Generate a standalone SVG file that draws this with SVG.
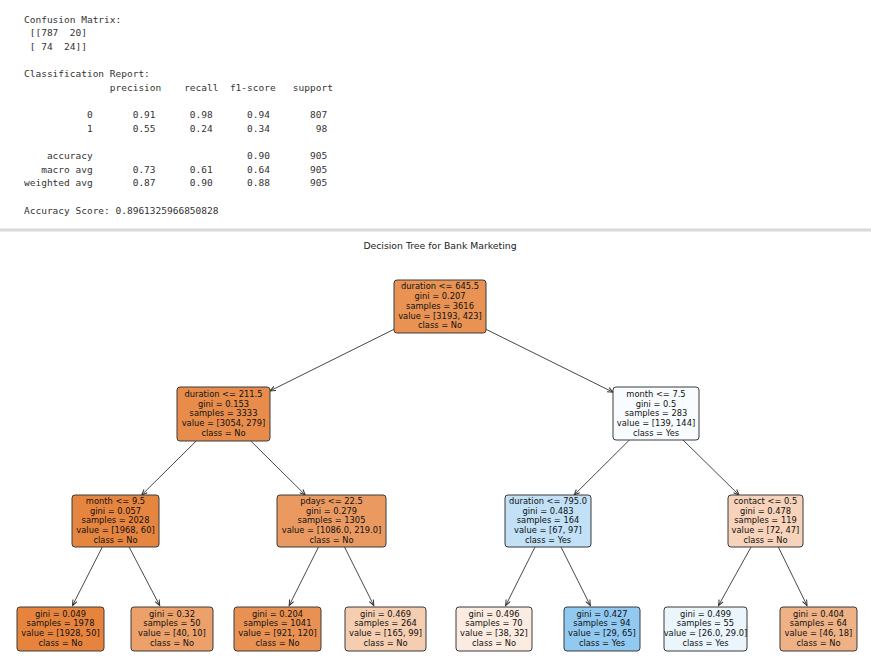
<svg xmlns="http://www.w3.org/2000/svg" width="871" height="665" viewBox="0 0 871 665">
<style>
.mono{font-family:"DejaVu Sans Mono","Liberation Mono",monospace;font-size:9.5px;fill:#333;white-space:pre}
.title{font-family:"DejaVu Sans","Liberation Sans",sans-serif;font-size:9.3px;fill:#222;text-anchor:middle}
.box{stroke:#3a3a3a;stroke-width:1}
.nt{font-family:"DejaVu Sans","Liberation Sans",sans-serif;font-size:8.3px;fill:#111;text-anchor:middle}
.edge line{stroke:#333;stroke-width:0.9;marker-end:url(#ah)}
</style>
<defs>
<marker id="ah" markerUnits="userSpaceOnUse" markerWidth="10" markerHeight="10" viewBox="-7 -5 10 10" refX="0" refY="0" orient="auto">
<path d="M-5.5,-2.3 L0,0 L-5.5,2.3" fill="none" stroke="#333" stroke-width="1"/>
</marker>
</defs>
<rect width="871" height="665" fill="#fff"/>
<g id="report">
<text class="mono" x="24" y="22.5" xml:space="preserve">Confusion Matrix:</text>
<text class="mono" x="24" y="36.1" xml:space="preserve"> [[787  20]</text>
<text class="mono" x="24" y="49.8" xml:space="preserve"> [ 74  24]]</text>
<text class="mono" x="24" y="77.1" xml:space="preserve">Classification Report:</text>
<text class="mono" x="24" y="90.7" xml:space="preserve">               precision    recall  f1-score   support</text>
<text class="mono" x="24" y="118" xml:space="preserve">           0       0.91      0.98      0.94       807</text>
<text class="mono" x="24" y="131.6" xml:space="preserve">           1       0.55      0.24      0.34        98</text>
<text class="mono" x="24" y="158.9" xml:space="preserve">    accuracy                           0.90       905</text>
<text class="mono" x="24" y="172.5" xml:space="preserve">   macro avg       0.73      0.61      0.64       905</text>
<text class="mono" x="24" y="186.2" xml:space="preserve">weighted avg       0.87      0.90      0.88       905</text>
<text class="mono" x="24" y="213.5" xml:space="preserve">Accuracy Score: 0.8961325966850828</text>
</g>
<rect x="0" y="228" width="871" height="4" fill="#ececec"/>
<rect x="0" y="229" width="871" height="2" fill="#d9d9d9"/>
<text class="title" x="440" y="249">Decision Tree for Bank Marketing</text>
<g id="connectors" class="edge">
<line x1="394" y1="329.3" x2="270" y2="390.9"/>
<line x1="486" y1="329.3" x2="613" y2="392.2"/>
<line x1="196.2" y1="441" x2="141.7" y2="495"/>
<line x1="250.8" y1="441" x2="305.3" y2="495"/>
<line x1="629.4" y1="440" x2="574.1" y2="495"/>
<line x1="683" y1="440" x2="739" y2="495"/>
<line x1="102.3" y1="547" x2="72.5" y2="605.5"/>
<line x1="129.1" y1="547" x2="159.7" y2="605.5"/>
<line x1="318.5" y1="547" x2="289.2" y2="605.5"/>
<line x1="344.5" y1="547" x2="373.8" y2="605.5"/>
<line x1="535" y1="547" x2="505.7" y2="605.5"/>
<line x1="561" y1="547" x2="590.3" y2="605.5"/>
<line x1="751.1" y1="547" x2="718.5" y2="605.5"/>
<line x1="778.3" y1="547" x2="807" y2="605.5"/>
</g>
<g id="n0">
<rect class="box" x="394" y="280" width="92" height="53" rx="3" fill="#e89253"/>
<text class="nt"><tspan x="440" y="289.4">duration &lt;= 645.5</tspan><tspan x="440" dy="9.7">gini = 0.207</tspan><tspan x="440" dy="9.7">samples = 3616</tspan><tspan x="440" dy="9.7">value = [3193, 423]</tspan><tspan x="440" dy="9.7">class = No</tspan></text>
</g>
<g id="n1">
<rect class="box" x="177" y="387" width="93" height="54" rx="3" fill="#e78c4b"/>
<text class="nt"><tspan x="223.5" y="396.9">duration &lt;= 211.5</tspan><tspan x="223.5" dy="9.7">gini = 0.153</tspan><tspan x="223.5" dy="9.7">samples = 3333</tspan><tspan x="223.5" dy="9.7">value = [3054, 279]</tspan><tspan x="223.5" dy="9.7">class = No</tspan></text>
</g>
<g id="n2">
<rect class="box" x="613" y="387" width="86" height="53" rx="3" fill="#f8fcfe"/>
<text class="nt"><tspan x="656" y="396.9">month &lt;= 7.5</tspan><tspan x="656" dy="9.7">gini = 0.5</tspan><tspan x="656" dy="9.7">samples = 283</tspan><tspan x="656" dy="9.7">value = [139, 144]</tspan><tspan x="656" dy="9.7">class = Yes</tspan></text>
</g>
<g id="n3">
<rect class="box" x="72" y="495" width="87" height="52" rx="3" fill="#e6853f"/>
<text class="nt"><tspan x="115.5" y="503.9">month &lt;= 9.5</tspan><tspan x="115.5" dy="9.7">gini = 0.057</tspan><tspan x="115.5" dy="9.7">samples = 2028</tspan><tspan x="115.5" dy="9.7">value = [1968, 60]</tspan><tspan x="115.5" dy="9.7">class = No</tspan></text>
</g>
<g id="n4">
<rect class="box" x="277" y="495" width="109" height="52" rx="3" fill="#ea9a61"/>
<text class="nt"><tspan x="331.5" y="503.9">pdays &lt;= 22.5</tspan><tspan x="331.5" dy="9.7">gini = 0.279</tspan><tspan x="331.5" dy="9.7">samples = 1305</tspan><tspan x="331.5" dy="9.7">value = [1086.0, 219.0]</tspan><tspan x="331.5" dy="9.7">class = No</tspan></text>
</g>
<g id="n5">
<rect class="box" x="505" y="495" width="86" height="52" rx="3" fill="#c2e1f7"/>
<text class="nt"><tspan x="548" y="503.9">duration &lt;= 795.0</tspan><tspan x="548" dy="9.7">gini = 0.483</tspan><tspan x="548" dy="9.7">samples = 164</tspan><tspan x="548" dy="9.7">value = [67, 97]</tspan><tspan x="548" dy="9.7">class = Yes</tspan></text>
</g>
<g id="n6">
<rect class="box" x="728" y="495" width="75" height="52" rx="3" fill="#f6d3ba"/>
<text class="nt"><tspan x="765.5" y="503.9">contact &lt;= 0.5</tspan><tspan x="765.5" dy="9.7">gini = 0.478</tspan><tspan x="765.5" dy="9.7">samples = 119</tspan><tspan x="765.5" dy="9.7">value = [72, 47]</tspan><tspan x="765.5" dy="9.7">class = No</tspan></text>
</g>
<g id="l1">
<rect class="box" x="17" y="607" width="87" height="44" rx="3" fill="#e6843e"/>
<text class="nt"><tspan x="60.5" y="616.75">gini = 0.049</tspan><tspan x="60.5" dy="9.7">samples = 1978</tspan><tspan x="60.5" dy="9.7">value = [1928, 50]</tspan><tspan x="60.5" dy="9.7">class = No</tspan></text>
</g>
<g id="l2">
<rect class="box" x="131" y="607" width="82" height="44" rx="3" fill="#eca06a"/>
<text class="nt"><tspan x="172" y="616.75">gini = 0.32</tspan><tspan x="172" dy="9.7">samples = 50</tspan><tspan x="172" dy="9.7">value = [40, 10]</tspan><tspan x="172" dy="9.7">class = No</tspan></text>
</g>
<g id="l3">
<rect class="box" x="234" y="607" width="87" height="44" rx="3" fill="#e89153"/>
<text class="nt"><tspan x="277.5" y="616.75">gini = 0.204</tspan><tspan x="277.5" dy="9.7">samples = 1041</tspan><tspan x="277.5" dy="9.7">value = [921, 120]</tspan><tspan x="277.5" dy="9.7">class = No</tspan></text>
</g>
<g id="l4">
<rect class="box" x="345" y="607" width="81" height="44" rx="3" fill="#f5cdb0"/>
<text class="nt"><tspan x="385.5" y="616.75">gini = 0.469</tspan><tspan x="385.5" dy="9.7">samples = 264</tspan><tspan x="385.5" dy="9.7">value = [165, 99]</tspan><tspan x="385.5" dy="9.7">class = No</tspan></text>
</g>
<g id="l5">
<rect class="box" x="456" y="607" width="76" height="44" rx="3" fill="#fbebe0"/>
<text class="nt"><tspan x="494" y="616.75">gini = 0.496</tspan><tspan x="494" dy="9.7">samples = 70</tspan><tspan x="494" dy="9.7">value = [38, 32]</tspan><tspan x="494" dy="9.7">class = No</tspan></text>
</g>
<g id="l6">
<rect class="box" x="564" y="607" width="76" height="44" rx="3" fill="#91c9f1"/>
<text class="nt"><tspan x="602" y="616.75">gini = 0.427</tspan><tspan x="602" dy="9.7">samples = 94</tspan><tspan x="602" dy="9.7">value = [29, 65]</tspan><tspan x="602" dy="9.7">class = Yes</tspan></text>
</g>
<g id="l7">
<rect class="box" x="664" y="607" width="83" height="44" rx="3" fill="#eaf5fc"/>
<text class="nt"><tspan x="705.5" y="616.75">gini = 0.499</tspan><tspan x="705.5" dy="9.7">samples = 55</tspan><tspan x="705.5" dy="9.7">value = [26.0, 29.0]</tspan><tspan x="705.5" dy="9.7">class = Yes</tspan></text>
</g>
<g id="l8">
<rect class="box" x="780" y="607" width="77" height="44" rx="3" fill="#efb286"/>
<text class="nt"><tspan x="818.5" y="616.75">gini = 0.404</tspan><tspan x="818.5" dy="9.7">samples = 64</tspan><tspan x="818.5" dy="9.7">value = [46, 18]</tspan><tspan x="818.5" dy="9.7">class = No</tspan></text>
</g>
</svg>
